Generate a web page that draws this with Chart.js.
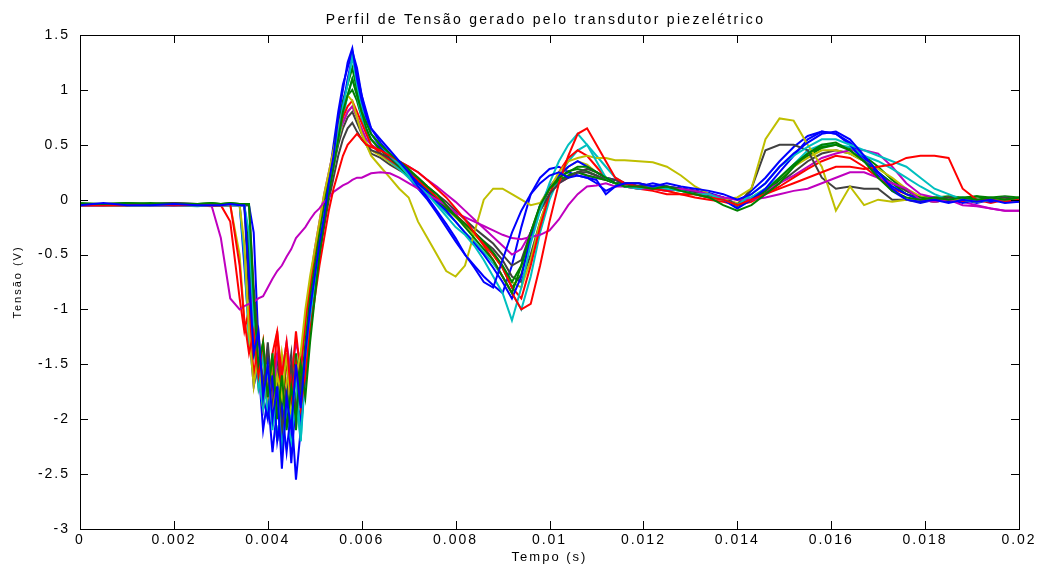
<!DOCTYPE html>
<html>
<head>
<meta charset="utf-8">
<script src="https://cdn.jsdelivr.net/npm/chart.js@4.4.0/dist/chart.umd.min.js"></script>
<style>
  body { margin: 0; background: #fff; }
  canvas { display: block; }
</style>
</head>
<body>
<canvas id="grafico" width="1043" height="571"></canvas>
<script>
// instantes de amostragem (s)
var tempo = [0, 0.0005, 0.001, 0.0015, 0.002, 0.0025, 0.0028, 0.003, 0.0032, 0.0034,
  0.0035, 0.0036, 0.0037, 0.0038, 0.0039, 0.004, 0.0041, 0.0042, 0.0043, 0.0044,
  0.0045, 0.0046, 0.0047, 0.0048, 0.0049, 0.005, 0.0051, 0.0052, 0.0053, 0.0054,
  0.0055, 0.0056, 0.0057, 0.0058, 0.0059, 0.006, 0.0061, 0.0062,
  0.0064, 0.0066, 0.0068, 0.007, 0.0072, 0.0074, 0.0076, 0.0078, 0.008, 0.0082,
  0.0084, 0.0086, 0.0088, 0.009, 0.0092, 0.0094, 0.0096, 0.0098, 0.01, 0.0102,
  0.0104, 0.0106, 0.0108, 0.011, 0.0112, 0.0114, 0.0116,
  0.0119, 0.0122, 0.0125, 0.0128, 0.0131, 0.0134, 0.0137, 0.014, 0.0143, 0.0146,
  0.0149, 0.0152, 0.0155, 0.0158, 0.0161, 0.0164, 0.0167, 0.017, 0.0173, 0.0176,
  0.0179, 0.0182, 0.0185, 0.0188, 0.0191, 0.0194, 0.0197, 0.02];

// tensao (V) de cada ensaio
var ensaio1 = [-0.05, -0.03, -0.05, -0.05, -0.04, -0.05, -0.05, -0.05, -0.04, -0.05,
  -0.05, -0.7, -1.4, -1.2, -1.8, -1.5, -2.0, -1.7, -2.45, -1.8, -2.1, -1.5, -1.9, -1.4, -1.0, -0.7, -0.4, -0.15, 0.15, 0.4, 0.75, 1.0, 1.25, 1.38, 1.1, 0.9, 0.75, 0.65,
  0.55, 0.45, 0.35, 0.25, 0.12, 0.02, -0.1, -0.22, -0.35, -0.5, -0.62, -0.75, -0.8, -0.55, -0.3, -0.1, 0.05, 0.15, 0.22, 0.25, 0.2, 0.22, 0.2, 0.18, 0.05, 0.12, 0.15,
  0.15, 0.12, 0.15, 0.12, 0.1, 0.08, 0.05, 0.0, 0.05, 0.15, 0.3, 0.42, 0.52, 0.6, 0.62, 0.55, 0.4, 0.25, 0.1, 0.0, -0.02, 0.0, -0.03, 0.0, -0.02, 0.0, -0.03, -0.02];
var ensaio2 = [-0.04, -0.04, -0.03, -0.04, -0.04, -0.04, -0.03, -0.04, -0.04, -0.04,
  -0.04, -0.04, -0.9, -1.5, -1.3, -1.8, -1.4, -2.0, -1.6, -2.1, -1.7, -2.0, -1.5, -1.8, -1.3, -0.9, -0.5, -0.2, 0.05, 0.3, 0.55, 0.8, 0.95, 1.1, 0.95, 0.8, 0.7, 0.6,
  0.5, 0.42, 0.35, 0.28, 0.2, 0.12, 0.05, -0.05, -0.15, -0.25, -0.35, -0.45, -0.55, -0.7, -0.85, -0.6, -0.3, -0.05, 0.1, 0.2, 0.25, 0.3, 0.3, 0.25, 0.2, 0.15, 0.12,
  0.12, 0.1, 0.12, 0.08, 0.05, 0.02, -0.05, -0.1, -0.05, 0.05, 0.15, 0.3, 0.42, 0.5, 0.52, 0.45, 0.35, 0.2, 0.08, 0.02, 0.0, 0.02, 0.0, 0.02, 0.0, 0.02, 0.0, 0.02];
var ensaio3 = [-0.05, -0.05, -0.05, -0.04, -0.05, -0.05, -0.05, -0.05, -0.04, -0.6,
  -1.1, -1.4, -1.2, -1.6, -1.3, -1.8, -1.4, -1.2, -1.6, -1.3, -1.8, -1.5, -1.9, -1.6, -1.2, -0.9, -0.6, -0.35, -0.1, 0.1, 0.25, 0.4, 0.5, 0.55, 0.6, 0.55, 0.5, 0.48,
  0.45, 0.4, 0.35, 0.3, 0.25, 0.18, 0.1, 0.02, -0.08, -0.18, -0.3, -0.42, -0.55, -0.7, -0.85, -1.0, -0.95, -0.6, -0.2, 0.15, 0.4, 0.6, 0.65, 0.5, 0.35, 0.2, 0.15,
  0.12, 0.1, 0.08, 0.05, 0.05, 0.02, 0.0, -0.05, 0.0, 0.05, 0.1, 0.15, 0.2, 0.25, 0.3, 0.3, 0.28, 0.3, 0.32, 0.38, 0.4, 0.4, 0.38, 0.1, 0.0, 0.0, -0.02, 0.0];
var ensaio4 = [-0.05, -0.04, -0.05, -0.05, -0.05, -0.06, -0.05, -0.05, -0.05, -0.05,
  -0.05, -0.3, -1.1, -1.6, -1.9, -1.5, -2.1, -1.7, -2.3, -1.9, -2.0, -1.6, -2.2, -1.5, -1.1, -0.75, -0.45, -0.15, 0.1, 0.35, 0.6, 0.85, 1.05, 1.3, 1.05, 0.85, 0.7, 0.6,
  0.5, 0.4, 0.32, 0.22, 0.12, 0.05, -0.05, -0.15, -0.25, -0.32, -0.42, -0.55, -0.7, -0.85, -1.1, -0.8, -0.4, -0.1, 0.15, 0.35, 0.5, 0.6, 0.5, 0.35, 0.2, 0.15, 0.12,
  0.1, 0.12, 0.1, 0.08, 0.05, 0.05, 0.0, -0.05, 0.05, 0.15, 0.3, 0.4, 0.48, 0.55, 0.55, 0.5, 0.45, 0.4, 0.35, 0.3, 0.2, 0.1, 0.05, 0.0, -0.02, 0.0, -0.02, 0.0];
var ensaio5 = [-0.05, -0.05, -0.04, -0.05, -0.05, -0.05, -0.05, -0.35, -0.9, -1.0,
  -0.97, -0.95, -0.93, -0.9, -0.88, -0.8, -0.72, -0.65, -0.6, -0.52, -0.45, -0.35, -0.3, -0.25, -0.18, -0.12, -0.08, -0.02, 0.02, 0.07, 0.1, 0.13, 0.15, 0.18, 0.2, 0.2, 0.22, 0.24,
  0.25, 0.24, 0.2, 0.15, 0.1, 0.05, 0.0, -0.05, -0.12, -0.16, -0.2, -0.24, -0.28, -0.32, -0.35, -0.36, -0.34, -0.32, -0.28, -0.18, -0.05, 0.05, 0.12, 0.13, 0.15, 0.12, 0.12,
  0.1, 0.1, 0.08, 0.1, 0.08, 0.05, 0.02, 0.0, 0.0, 0.02, 0.05, 0.08, 0.1, 0.15, 0.2, 0.25, 0.25, 0.2, 0.15, 0.1, 0.0, -0.02, 0.0, -0.05, -0.06, -0.08, -0.1, -0.1];
var ensaio6 = [-0.05, -0.05, -0.05, -0.05, -0.04, -0.05, -0.05, -0.05, -0.05, -0.05,
  -0.4, -1.2, -1.7, -1.4, -1.9, -1.5, -2.0, -1.6, -1.8, -1.4, -2.0, -1.6, -1.4, -1.0, -0.7, -0.45, -0.2, 0.05, 0.25, 0.45, 0.65, 0.82, 0.95, 0.9, 0.75, 0.6, 0.5, 0.4,
  0.3, 0.2, 0.1, 0.02, -0.2, -0.35, -0.5, -0.65, -0.7, -0.6, -0.3, 0.0, 0.1, 0.1, 0.05, 0.0, -0.05, -0.03, 0.1, 0.25, 0.35, 0.38, 0.4, 0.38, 0.38, 0.36, 0.36,
  0.35, 0.34, 0.3, 0.22, 0.12, 0.05, 0.0, 0.02, 0.1, 0.55, 0.74, 0.72, 0.5, 0.3, -0.1, 0.12, -0.05, 0.0, -0.02, 0.0, 0.0, -0.02, 0.0, 0.0, -0.02, 0.0, 0.0, -0.02];
var ensaio7 = [-0.05, -0.05, -0.05, -0.05, -0.05, -0.04, -0.05, -0.05, -0.05, -0.05,
  -0.05, -0.05, -0.8, -1.3, -1.7, -1.4, -1.9, -1.6, -2.1, -1.8, -1.5, -1.9, -1.7, -1.5, -1.1, -0.8, -0.5, -0.25, 0.0, 0.2, 0.4, 0.55, 0.65, 0.7, 0.62, 0.55, 0.5, 0.45,
  0.42, 0.38, 0.32, 0.26, 0.2, 0.12, 0.05, -0.02, -0.1, -0.18, -0.26, -0.33, -0.4, -0.5, -0.6, -0.55, -0.3, -0.1, 0.05, 0.15, 0.2, 0.25, 0.28, 0.25, 0.2, 0.18, 0.15,
  0.15, 0.12, 0.12, 0.1, 0.08, 0.05, 0.02, -0.05, 0.1, 0.45, 0.5, 0.5, 0.45, 0.2, 0.1, 0.12, 0.1, 0.1, 0.0, 0.0, -0.02, 0.0, 0.02, 0.0, -0.02, 0.0, 0.02, 0.0];
var ensaio8 = [-0.05, -0.05, -0.05, -0.05, -0.05, -0.05, -0.05, -0.05, -0.05, -0.05,
  -0.05, -0.05, -0.3, -1.3, -1.8, -2.0, -1.6, -2.2, -1.9, -2.3, -1.9, -2.55, -2.1, -1.6, -1.2, -0.85, -0.5, -0.2, 0.1, 0.35, 0.6, 0.85, 1.1, 1.3, 1.15, 0.95, 0.75, 0.6,
  0.48, 0.4, 0.32, 0.24, 0.15, 0.07, -0.02, -0.1, -0.2, -0.3, -0.4, -0.5, -0.62, -0.75, -0.9, -0.7, -0.35, -0.05, 0.12, 0.22, 0.3, 0.35, 0.3, 0.25, 0.2, 0.18, 0.15,
  0.12, 0.1, 0.12, 0.1, 0.08, 0.05, 0.0, -0.08, 0.0, 0.1, 0.25, 0.4, 0.55, 0.62, 0.6, 0.5, 0.35, 0.25, 0.12, 0.05, 0.0, -0.02, 0.0, -0.03, 0.0, -0.02, 0.0, -0.02];
var ensaio9 = [-0.04, -0.04, -0.04, -0.03, -0.04, -0.04, -0.04, -0.04, -0.03, -0.04,
  -0.04, -0.5, -1.0, -1.4, -1.9, -1.5, -2.0, -1.6, -1.9, -1.4, -1.9, -1.4, -1.8, -1.3, -0.9, -0.6, -0.3, -0.05, 0.2, 0.45, 0.7, 0.9, 1.05, 1.2, 1.0, 0.8, 0.65, 0.55,
  0.45, 0.38, 0.3, 0.22, 0.15, 0.08, 0.0, -0.08, -0.15, -0.22, -0.3, -0.38, -0.48, -0.6, -0.75, -0.6, -0.3, -0.05, 0.1, 0.18, 0.22, 0.25, 0.22, 0.2, 0.18, 0.15, 0.15,
  0.12, 0.12, 0.1, 0.1, 0.08, 0.05, 0.0, -0.05, 0.0, 0.08, 0.2, 0.32, 0.42, 0.48, 0.5, 0.45, 0.35, 0.25, 0.15, 0.05, 0.02, 0.0, 0.02, 0.0, 0.03, 0.0, 0.02, 0.0];
var ensaio10 = [-0.05, -0.05, -0.05, -0.05, -0.05, -0.05, -0.06, -0.05, -0.2, -0.9,
  -1.2, -1.0, -1.6, -1.3, -1.9, -1.5, -1.7, -1.2, -1.9, -1.5, -1.7, -1.2, -1.6, -1.1, -0.8, -0.5, -0.25, 0.0, 0.2, 0.4, 0.6, 0.75, 0.85, 0.9, 0.8, 0.7, 0.6, 0.5,
  0.42, 0.36, 0.3, 0.24, 0.18, 0.1, 0.02, -0.06, -0.14, -0.22, -0.3, -0.4, -0.5, -0.62, -0.8, -0.9, -0.6, -0.25, 0.05, 0.25, 0.38, 0.45, 0.4, 0.3, 0.2, 0.15, 0.12,
  0.1, 0.08, 0.05, 0.05, 0.02, 0.0, -0.02, -0.05, -0.02, 0.05, 0.12, 0.2, 0.28, 0.35, 0.4, 0.38, 0.3, 0.2, 0.1, 0.05, 0.0, -0.02, 0.0, -0.02, 0.0, -0.03, 0.0, -0.02];
var ensaio11 = [-0.05, -0.05, -0.05, -0.05, -0.05, -0.05, -0.05, -0.05, -0.05, -0.05,
  -0.5, -1.3, -1.1, -1.7, -1.4, -2.0, -1.6, -2.2, -1.8, -2.0, -2.2, -1.8, -2.2, -1.6, -1.2, -0.85, -0.5, -0.2, 0.05, 0.3, 0.55, 0.75, 0.95, 1.1, 0.95, 0.75, 0.6, 0.5,
  0.42, 0.35, 0.28, 0.2, 0.12, 0.05, -0.03, -0.12, -0.2, -0.3, -0.38, -0.48, -0.58, -0.7, -0.85, -1.0, -0.7, -0.3, 0.0, 0.2, 0.35, 0.45, 0.5, 0.4, 0.3, 0.2, 0.15,
  0.12, 0.1, 0.1, 0.08, 0.05, 0.02, 0.0, -0.05, 0.02, 0.1, 0.2, 0.32, 0.45, 0.5, 0.5, 0.48, 0.4, 0.35, 0.28, 0.2, 0.12, 0.05, 0.0, 0.02, 0.0, 0.0, 0.02, 0.0];
var ensaio12 = [-0.05, -0.05, -0.05, -0.05, -0.05, -0.05, -0.05, -0.05, -0.05, -0.05,
  -0.05, -0.4, -1.2, -1.6, -1.9, -1.5, -1.8, -1.4, -1.6, -1.3, -1.6, -1.3, -1.5, -1.1, -0.75, -0.45, -0.2, 0.05, 0.25, 0.45, 0.6, 0.7, 0.8, 0.85, 0.75, 0.65, 0.55, 0.5,
  0.45, 0.4, 0.35, 0.3, 0.25, 0.18, 0.12, 0.05, -0.02, -0.1, -0.18, -0.26, -0.34, -0.42, -0.5, -0.45, -0.3, -0.1, 0.05, 0.15, 0.2, 0.25, 0.22, 0.2, 0.18, 0.18, 0.15,
  0.15, 0.12, 0.1, 0.1, 0.08, 0.05, 0.02, 0.0, 0.02, 0.08, 0.15, 0.22, 0.3, 0.38, 0.42, 0.45, 0.45, 0.42, 0.3, 0.15, 0.05, 0.02, 0.0, -0.02, -0.05, -0.08, -0.1, -0.1];
var ensaio13 = [-0.05, -0.05, -0.05, -0.05, -0.05, -0.05, -0.05, -0.05, -0.05, -0.5,
  -1.1, -1.3, -1.1, -1.6, -1.3, -1.8, -1.5, -1.9, -1.4, -1.7, -1.5, -1.9, -1.4, -1.2, -0.9, -0.6, -0.35, -0.1, 0.15, 0.35, 0.55, 0.7, 0.8, 0.85, 0.75, 0.62, 0.52, 0.45,
  0.4, 0.34, 0.28, 0.22, 0.15, 0.08, 0.0, -0.08, -0.16, -0.24, -0.32, -0.4, -0.5, -0.62, -0.75, -0.8, -0.55, -0.2, 0.05, 0.2, 0.3, 0.35, 0.32, 0.25, 0.2, 0.15, 0.12,
  0.1, 0.1, 0.08, 0.05, 0.05, 0.02, 0.0, -0.03, 0.02, 0.1, 0.2, 0.3, 0.38, 0.45, 0.45, 0.42, 0.35, 0.28, 0.2, 0.1, 0.03, 0.0, 0.02, 0.0, -0.02, 0.0, 0.0, -0.02];
var ensaio14 = [-0.04, -0.04, -0.04, -0.04, -0.03, -0.04, -0.04, -0.04, -0.04, -0.04,
  -0.04, -0.9, -1.4, -1.2, -1.7, -1.3, -1.8, -1.4, -2.0, -1.7, -1.4, -2.0, -1.7, -1.4, -1.0, -0.7, -0.4, -0.15, 0.1, 0.3, 0.5, 0.65, 0.75, 0.8, 0.7, 0.6, 0.5, 0.42,
  0.38, 0.32, 0.27, 0.22, 0.16, 0.1, 0.02, -0.06, -0.14, -0.22, -0.3, -0.38, -0.45, -0.55, -0.7, -0.75, -0.5, -0.2, 0.05, 0.15, 0.22, 0.25, 0.25, 0.22, 0.18, 0.15, 0.15,
  0.12, 0.12, 0.1, 0.08, 0.06, 0.04, 0.0, -0.05, 0.0, 0.06, 0.15, 0.25, 0.35, 0.42, 0.45, 0.42, 0.35, 0.25, 0.15, 0.08, 0.02, 0.0, 0.02, 0.0, 0.0, -0.02, 0.0, 0.0];
var ensaio15 = [-0.04, -0.05, -0.04, -0.04, -0.05, -0.04, -0.04, -0.04, -0.05, -0.04,
  -0.6, -1.2, -1.7, -1.5, -2.1, -1.8, -2.3, -1.9, -2.2, -1.7, -2.4, -1.8, -2.0, -1.5, -1.1, -0.8, -0.45, -0.1, 0.2, 0.5, 0.8, 1.05, 1.2, 1.35, 1.2, 0.95, 0.8, 0.65,
  0.52, 0.42, 0.3, 0.2, 0.1, 0.0, -0.12, -0.25, -0.38, -0.5, -0.6, -0.7, -0.78, -0.85, -0.6, -0.25, 0.05, 0.2, 0.28, 0.3, 0.25, 0.22, 0.2, 0.15, 0.08, 0.12, 0.15,
  0.12, 0.15, 0.12, 0.1, 0.08, 0.06, 0.02, -0.04, 0.08, 0.2, 0.35, 0.48, 0.58, 0.62, 0.6, 0.52, 0.38, 0.22, 0.08, 0.0, -0.03, 0.0, -0.02, 0.0, -0.03, 0.0, -0.02, 0.0];
var ensaio16 = [-0.03, -0.04, -0.03, -0.04, -0.03, -0.04, -0.03, -0.04, -0.03, -0.04,
  -0.04, -0.6, -1.3, -1.7, -1.4, -1.9, -1.6, -2.2, -1.8, -2.0, -1.6, -2.1, -1.6, -1.6, -1.2, -0.8, -0.45, -0.15, 0.1, 0.35, 0.6, 0.8, 0.95, 1.0, 0.9, 0.75, 0.62, 0.55,
  0.46, 0.4, 0.33, 0.25, 0.17, 0.1, 0.02, -0.06, -0.14, -0.22, -0.3, -0.4, -0.5, -0.62, -0.8, -0.68, -0.35, -0.08, 0.1, 0.2, 0.26, 0.28, 0.26, 0.22, 0.18, 0.15, 0.14,
  0.12, 0.12, 0.1, 0.1, 0.06, 0.03, 0.0, -0.06, 0.0, 0.06, 0.18, 0.3, 0.4, 0.47, 0.5, 0.47, 0.4, 0.3, 0.18, 0.08, 0.03, 0.02, 0.03, 0.02, 0.03, 0.02, 0.03, 0.02];

// cores padrao do matlab antigo: b g r c m y k
var cores = ['#0000ff', '#008000', '#ff0000', '#00bfbf', '#bf00bf', '#bfbf00', '#404040'];

var ticksX = [0, 0.002, 0.004, 0.006, 0.008, 0.01, 0.012, 0.014, 0.016, 0.018, 0.02];
var rotulosX = ['0', '0.002', '0.004', '0.006', '0.008', '0.01', '0.012', '0.014', '0.016', '0.018', '0.02'];
var ticksY = [-3, -2.5, -2, -1.5, -1, -0.5, 0, 0.5, 1, 1.5];
var rotulosY = ['-3', '-2.5', '-2', '-1.5', '-1', '-0.5', '0', '0.5', '1', '1.5'];

var titulo = 'Perfil de Tensão gerado pelo transdutor piezelétrico';

var ensaios = [ensaio1, ensaio2, ensaio3, ensaio4, ensaio5, ensaio6, ensaio7, ensaio8,
  ensaio9, ensaio10, ensaio11, ensaio12, ensaio13, ensaio14, ensaio15, ensaio16];

var fonte = 'Liberation Sans, Arial, Helvetica, sans-serif';

var datasets = ensaios.map(function(v, i) {
  return {
    label: 'ensaio ' + (i + 1),
    data: tempo.map(function(t, k) { return {x: t, y: v[k]}; }),
    borderColor: cores[i % cores.length],
    borderWidth: 2,
    pointRadius: 0,
    fill: false,
    tension: 0
  };
});

// caixa com marcas de escala para dentro e titulo espacado, estilo matlab
var caixa = {
  id: 'caixa',
  beforeDraw: function(chart) {
    chart.ctx.letterSpacing = '2px';
  },
  afterDraw: function(chart) {
    var ctx = chart.ctx, a = chart.chartArea;
    var sx = chart.scales.x, sy = chart.scales.y;
    ctx.save();
    ctx.strokeStyle = '#000';
    ctx.lineWidth = 1;
    ctx.strokeRect(Math.round(a.left) + 0.5, Math.round(a.top) + 0.5,
      Math.round(a.right - a.left), Math.round(a.bottom - a.top));
    ctx.beginPath();
    ticksX.forEach(function(v) {
      var p = Math.round(sx.getPixelForValue(v)) + 0.5;
      ctx.moveTo(p, a.bottom); ctx.lineTo(p, a.bottom - 8);
      ctx.moveTo(p, a.top); ctx.lineTo(p, a.top + 8);
    });
    ticksY.forEach(function(v) {
      var p = Math.round(sy.getPixelForValue(v)) + 0.5;
      ctx.moveTo(a.left, p); ctx.lineTo(a.left + 8, p);
      ctx.moveTo(a.right, p); ctx.lineTo(a.right - 8, p);
    });
    ctx.stroke();
    ctx.letterSpacing = '2.3px';
    ctx.fillStyle = '#000';
    ctx.font = '14px ' + fonte;
    ctx.textAlign = 'center';
    ctx.textBaseline = 'alphabetic';
    ctx.fillText(titulo, (a.left + a.right) / 2 - 4, 24);
    ctx.restore();
  }
};

new Chart(document.getElementById('grafico').getContext('2d'), {
  type: 'line',
  data: { datasets: datasets },
  options: {
    responsive: false,
    animation: false,
    devicePixelRatio: 1,
    layout: { padding: { left: 0, right: 24, top: 35, bottom: 0 } },
    plugins: {
      legend: { display: false },
      tooltip: { enabled: false },
      title: { display: false }
    },
    scales: {
      x: {
        type: 'linear',
        min: 0,
        max: 0.02,
        afterFit: function(s) { s.height = 42; },
        afterBuildTicks: function(s) { s.ticks = ticksX.map(function(v) { return {value: v}; }); },
        grid: { display: false },
        border: { display: false },
        ticks: {
          autoSkip: false, maxRotation: 0, padding: -5, color: '#000',
          font: { family: fonte, size: 14 },
          callback: function(v, i) { return rotulosX[i]; }
        },
        title: {
          display: true, text: 'Tempo (s)', color: '#000',
          font: { family: fonte, size: 13 },
          padding: { top: 0, bottom: 6 }
        }
      },
      y: {
        type: 'linear',
        min: -3,
        max: 1.5,
        afterFit: function(s) { s.width = 80; },
        afterBuildTicks: function(s) { s.ticks = ticksY.map(function(v) { return {value: v}; }); },
        grid: { display: false },
        border: { display: false },
        ticks: {
          autoSkip: false, padding: 2, color: '#000',
          font: { family: fonte, size: 14 },
          callback: function(v, i) { return rotulosY[i]; }
        },
        title: {
          display: true, text: 'Tensão (V)', color: '#000',
          font: { family: fonte, size: 11 },
          padding: { top: 11, bottom: 0 }
        }
      }
    }
  },
  plugins: [caixa]
});
</script>
</body>
</html>
